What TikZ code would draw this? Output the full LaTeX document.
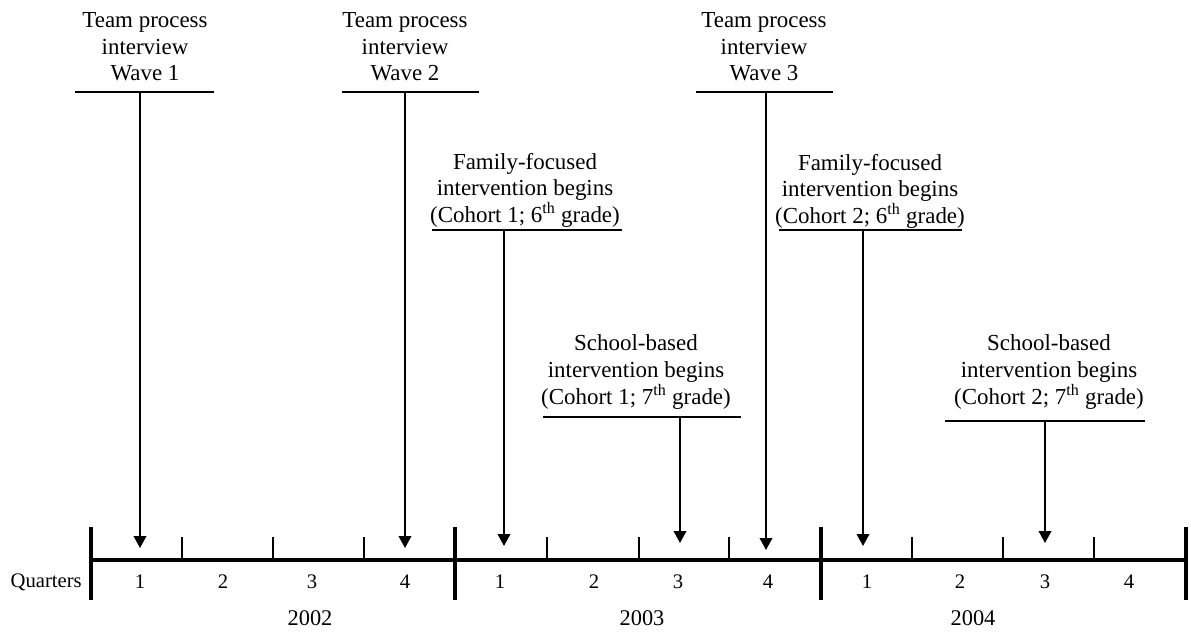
\documentclass[tikz,border=0pt]{standalone}
\usepackage{fontspec}
\setmainfont{Liberation Serif}
\usetikzlibrary{arrows.meta}
\begin{document}
\begin{tikzpicture}[x=0.75pt,y=-0.75pt,
  lbl/.style={align=center,font=\fontsize{17.2}{19.9}\selectfont,inner sep=0pt},
  qnum/.style={font=\fontsize{15.5}{18}\selectfont,inner sep=0pt},
  yr/.style={font=\fontsize{16.8}{19.9}\selectfont,inner sep=0pt},
  axis/.style={line width=3pt},
  bigtick/.style={line width=3pt},
  smalltick/.style={line width=1.1pt},
  bar/.style={line width=1.1pt},
  arr/.style={line width=1.1pt,-{Triangle[width=9.5pt,length=9pt]}}]
\useasboundingbox (0,0) rectangle (1191,635);

% timeline
\coordinate (a0) at (91,560);
\coordinate (a1) at (1186,560);
\draw[axis] (a0) -- (a1);
\foreach \x/\n in {91/b0,455/b1,821/b2,1186/b3}{
  \coordinate (\n t) at (\x,527);
  \coordinate (\n b) at (\x,600);
  \draw[bigtick] (\n t) -- (\n b);
}
\foreach \x [count=\i] in {182,273,364,547,639,729,912,1003,1094}{
  \coordinate (s\i t) at (\x,537);
  \coordinate (s\i b) at (\x,560);
  \draw[smalltick] (s\i t) -- (s\i b);
}
% quarter numbers
\node[qnum,anchor=east] (qlab) at (82,582) {Quarters};
\foreach \x/\q [count=\i] in {140/1,223/2,312/3,405/4,500/1,594/2,678/3,768/4,867/1,960/2,1045/3,1129/4}{
  \node[qnum] (q\i) at (\x,582) {\q};
}
\node[yr] (y2002) at (310,618) {2002};
\node[yr] (y2003) at (642,618) {2003};
\node[yr] (y2004) at (973,618) {2004};

% Wave 1
\node[lbl] (w1) at (145,47) {Team process\\interview\\Wave 1};
\coordinate (w1l) at (75,92); \coordinate (w1r) at (214,92);
\draw[bar] (w1l) -- (w1r);
\coordinate (w1s) at (140,92); \coordinate (w1e) at (140,548);
\draw[arr] (w1s) -- (w1e);

% Wave 2
\node[lbl] (w2) at (405,47) {Team process\\interview\\Wave 2};
\coordinate (w2l) at (342,92); \coordinate (w2r) at (479,92);
\draw[bar] (w2l) -- (w2r);
\coordinate (w2s) at (405,92); \coordinate (w2e) at (405,548);
\draw[arr] (w2s) -- (w2e);

% Wave 3
\node[lbl] (w3) at (764,47) {Team process\\interview\\Wave 3};
\coordinate (w3l) at (696,92); \coordinate (w3r) at (833,92);
\draw[bar] (w3l) -- (w3r);
\coordinate (w3s) at (766,92); \coordinate (w3e) at (766,550);
\draw[arr] (w3s) -- (w3e);

% Family-focused cohort 1
\node[lbl] (f1) at (525,190) {Family-focused\\intervention begins\\(Cohort 1; 6\textsuperscript{th} grade)};
\coordinate (f1l) at (432,230); \coordinate (f1r) at (622,230);
\draw[bar] (f1l) -- (f1r);
\coordinate (f1s) at (504,230); \coordinate (f1e) at (504,546);
\draw[arr] (f1s) -- (f1e);

% Family-focused cohort 2
\node[lbl] (f2) at (870,191) {Family-focused\\intervention begins\\(Cohort 2; 6\textsuperscript{th} grade)};
\coordinate (f2l) at (779,230); \coordinate (f2r) at (962,230);
\draw[bar] (f2l) -- (f2r);
\coordinate (f2s) at (863,230); \coordinate (f2e) at (863,546);
\draw[arr] (f2s) -- (f2e);

% School-based cohort 1
\node[lbl] (sb1) at (636,372) {School-based\\intervention begins\\(Cohort 1; 7\textsuperscript{th} grade)};
\coordinate (sb1l) at (543,417); \coordinate (sb1r) at (741,417);
\draw[bar] (sb1l) -- (sb1r);
\coordinate (sb1s) at (680,417); \coordinate (sb1e) at (680,543);
\draw[arr] (sb1s) -- (sb1e);

% School-based cohort 2
\node[lbl] (sb2) at (1049,372) {School-based\\intervention begins\\(Cohort 2; 7\textsuperscript{th} grade)};
\coordinate (sb2l) at (945,421); \coordinate (sb2r) at (1145,421);
\draw[bar] (sb2l) -- (sb2r);
\coordinate (sb2s) at (1045,421); \coordinate (sb2e) at (1045,543);
\draw[arr] (sb2s) -- (sb2e);
\end{tikzpicture}
\end{document}
